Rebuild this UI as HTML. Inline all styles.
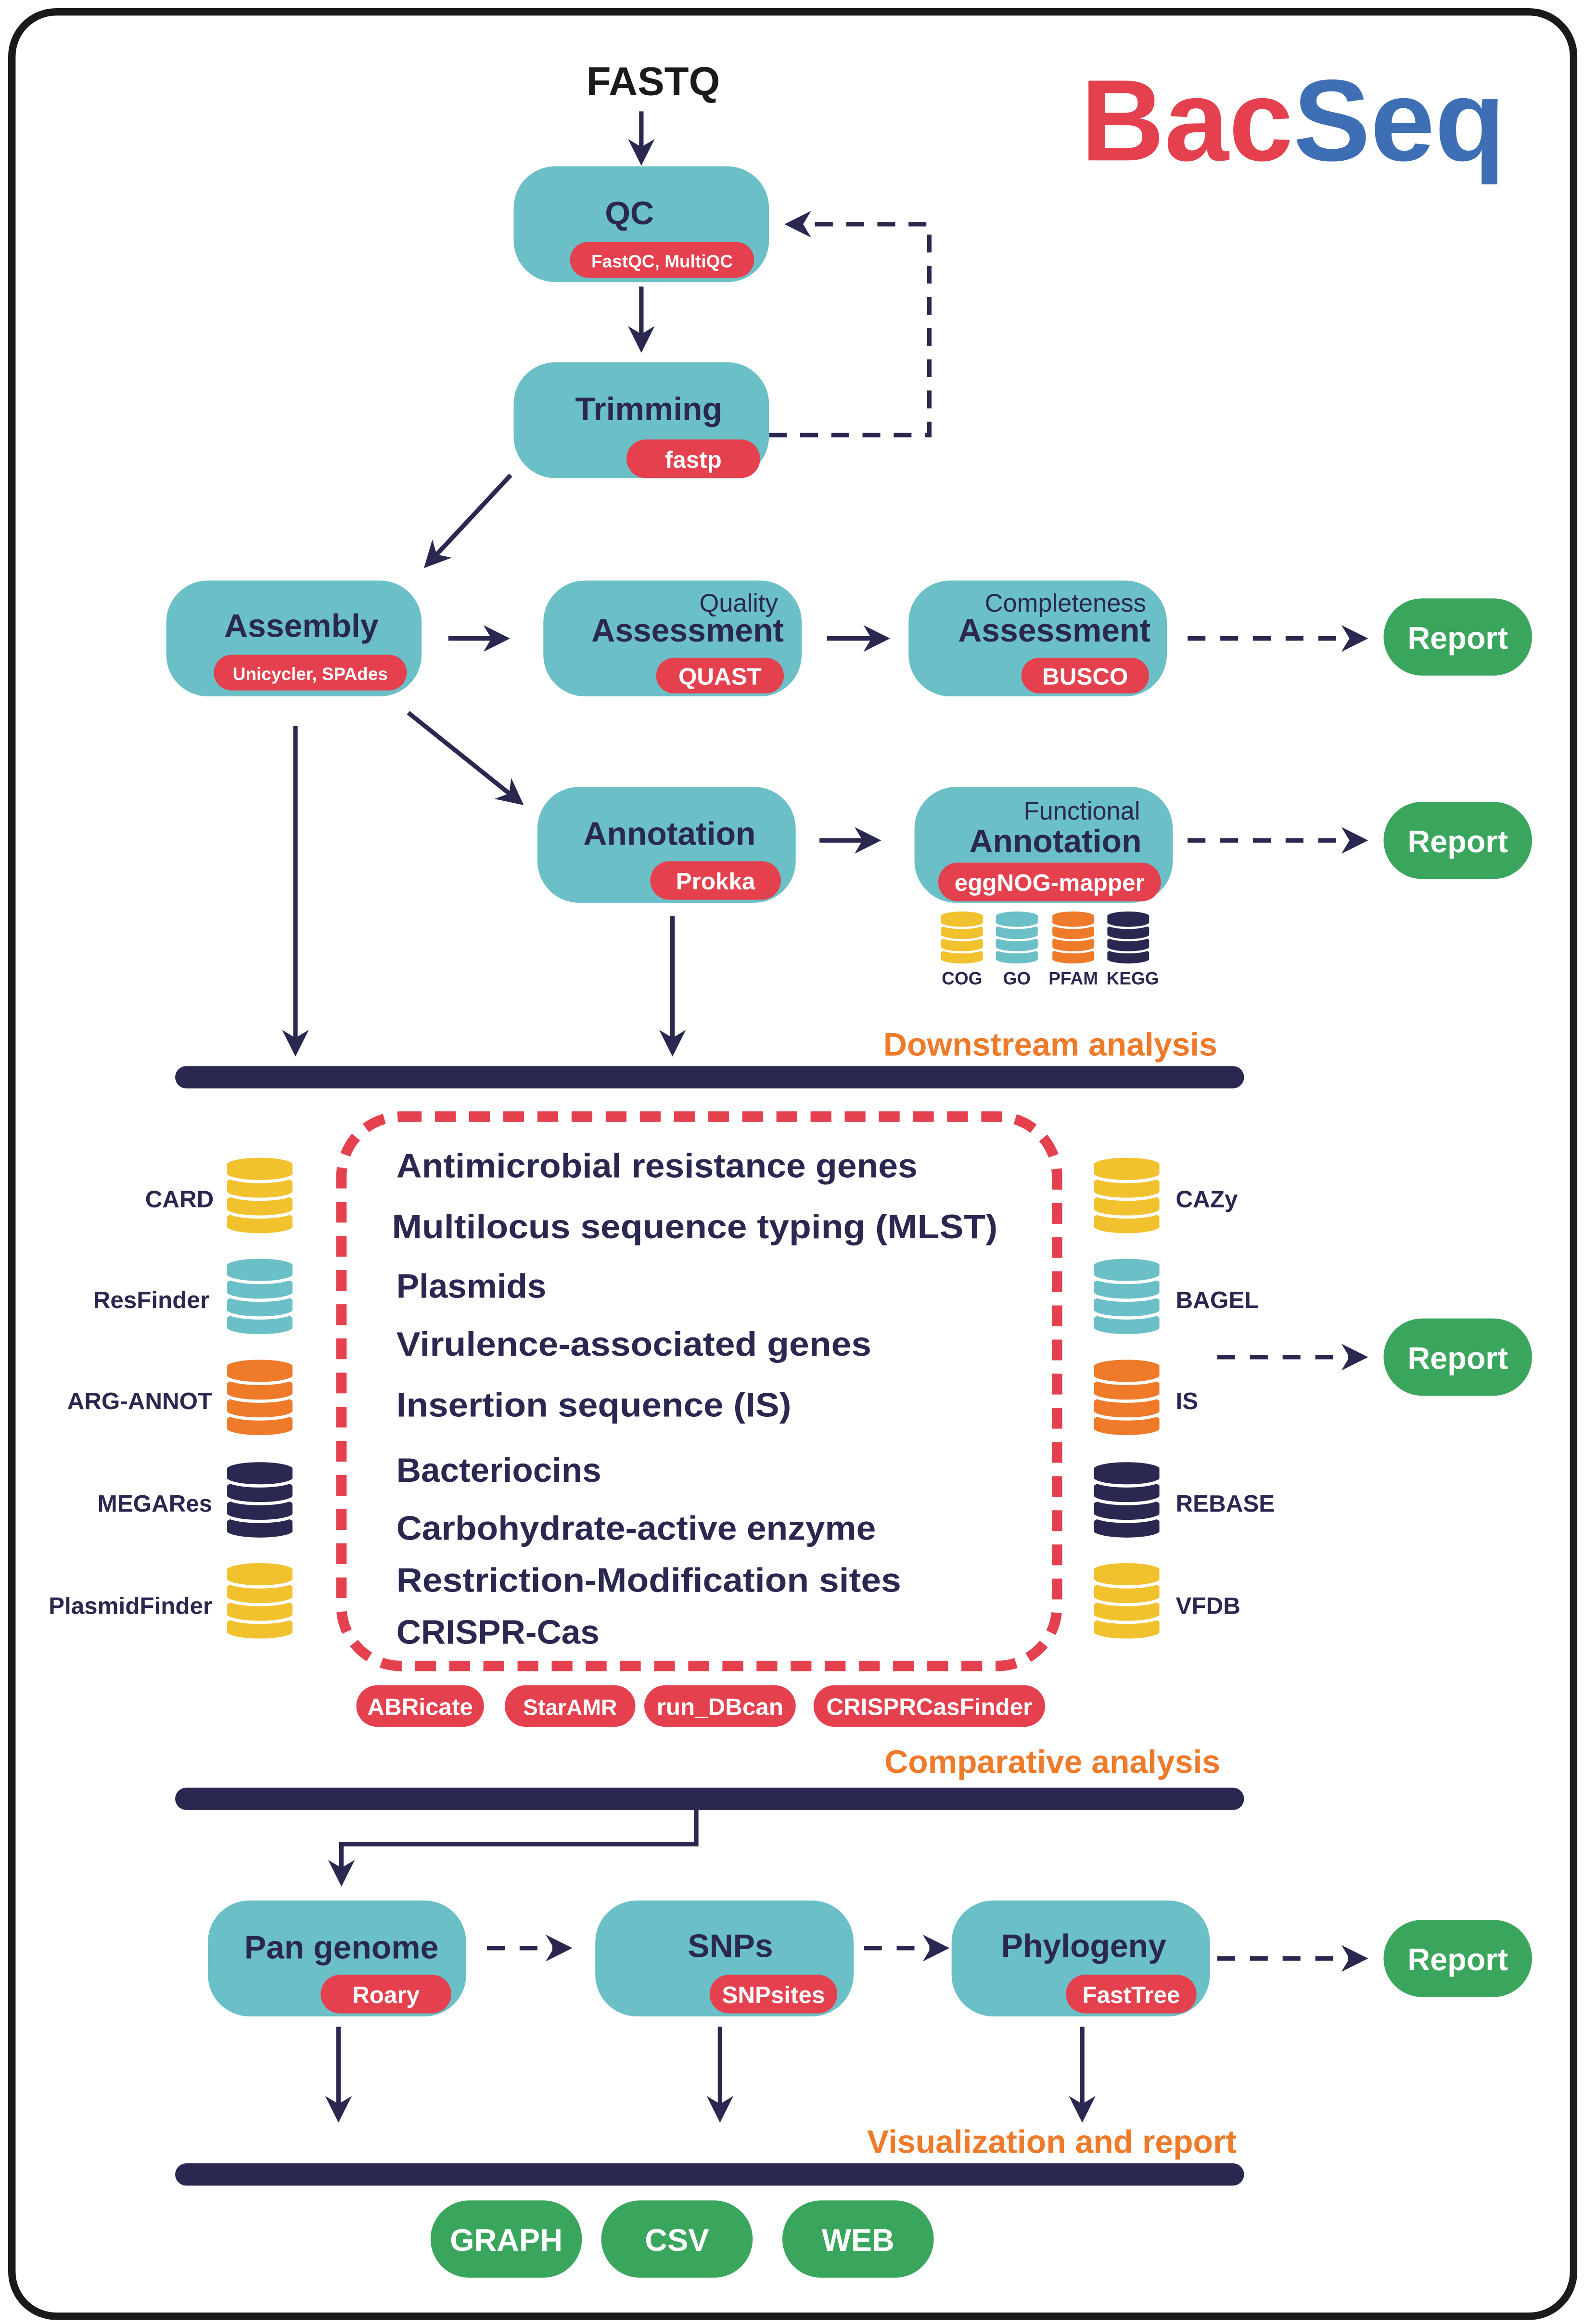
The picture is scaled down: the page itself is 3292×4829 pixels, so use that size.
<!DOCTYPE html>
<html><head><meta charset="utf-8"><style>
html,body{margin:0;padding:0;background:#fff}
svg{display:block}
text{font-family:"Liberation Sans",sans-serif}
</style></head><body>
<svg width="3292" height="4829" viewBox="0 0 1067 1565.2" xmlns="http://www.w3.org/2000/svg">
<defs>
<marker id="ah" viewBox="0 0 10 10" refX="8" refY="5" markerWidth="6" markerHeight="6" orient="auto" markerUnits="strokeWidth"><path d="M0,0 L10,5 L0,10 L3,5 z" fill="#2a2850"/></marker>
<symbol id="db" viewBox="-2 -2 54 68" preserveAspectRatio="none">
<path d="M0,48 v8 a25,6 0 0 0 50,0 v-8 a25,6 0 0 0 -50,0 z" fill="currentColor" stroke="#fff" stroke-width="2.5"/>
<path d="M0,34 v8 a25,6 0 0 0 50,0 v-8 a25,6 0 0 0 -50,0 z" fill="currentColor" stroke="#fff" stroke-width="2.5"/>
<path d="M0,20 v8 a25,6 0 0 0 50,0 v-8 a25,6 0 0 0 -50,0 z" fill="currentColor" stroke="#fff" stroke-width="2.5"/>
<path d="M0,6 v8 a25,6 0 0 0 50,0 v-8 a25,6 0 0 0 -50,0 z" fill="currentColor" stroke="#fff" stroke-width="2.5"/>
</symbol>
</defs>
<rect x="0" y="0" width="1067" height="1566" fill="#fff"/>
<rect x="8" y="8" width="1052" height="1552" rx="30" fill="none" stroke="#1a1a1a" stroke-width="5"/>

<text x="728" y="108" font-size="78" font-weight="bold" fill="#e5404e">Bac<tspan fill="#3e6fb5">Seq</tspan></text>

<g fill="none" stroke="#2a2850" stroke-width="3">
<line x1="432" y1="75" x2="432" y2="108" marker-end="url(#ah)"/>
<line x1="432" y1="193" x2="432" y2="234" marker-end="url(#ah)"/>
<path d="M518,293 H626 V151 H532" stroke-dasharray="12 9" marker-end="url(#ah)"/>
<line x1="344" y1="320" x2="288" y2="380" marker-end="url(#ah)"/>
<line x1="302" y1="430" x2="340" y2="430" marker-end="url(#ah)"/>
<line x1="557" y1="430" x2="596" y2="430" marker-end="url(#ah)"/>
<line x1="800" y1="430" x2="918" y2="430" stroke-dasharray="12 10" marker-end="url(#ah)"/>
<line x1="275" y1="480" x2="350" y2="540" marker-end="url(#ah)"/>
<line x1="552" y1="566" x2="590" y2="566" marker-end="url(#ah)"/>
<line x1="800" y1="566" x2="918" y2="566" stroke-dasharray="12 10" marker-end="url(#ah)"/>
<line x1="199" y1="489" x2="199" y2="708" marker-end="url(#ah)"/>
<line x1="453" y1="617" x2="453" y2="708" marker-end="url(#ah)"/>
<line x1="820" y1="914" x2="918" y2="914" stroke-dasharray="12 10" marker-end="url(#ah)"/>
<path d="M469,1219 V1242 H230 V1267" marker-end="url(#ah)"/>
<line x1="328" y1="1312" x2="382" y2="1312" stroke-dasharray="12 10" marker-end="url(#ah)"/>
<line x1="582" y1="1312" x2="636" y2="1312" stroke-dasharray="12 10" marker-end="url(#ah)"/>
<line x1="820" y1="1319" x2="918" y2="1319" stroke-dasharray="12 10" marker-end="url(#ah)"/>
<line x1="228" y1="1365" x2="228" y2="1426" marker-end="url(#ah)"/>
<line x1="485" y1="1365" x2="485" y2="1426" marker-end="url(#ah)"/>
<line x1="729" y1="1365" x2="729" y2="1426" marker-end="url(#ah)"/>
</g>

<text x="440" y="64" font-size="27" font-weight="bold" fill="#1a1a1a" text-anchor="middle">FASTQ</text>

<g fill="#6bbfc6">
<rect x="346" y="112" width="172" height="78" rx="28"/>
<rect x="346" y="244" width="172" height="78" rx="28"/>
<rect x="112" y="391" width="172" height="78" rx="28"/>
<rect x="366" y="391" width="174" height="78" rx="28"/>
<rect x="612" y="391" width="174" height="78" rx="28"/>
<rect x="362" y="530" width="174" height="78" rx="28"/>
<rect x="616" y="530" width="174" height="78" rx="28"/>
<rect x="140" y="1280" width="174" height="78" rx="28"/>
<rect x="401" y="1280" width="174" height="78" rx="28"/>
<rect x="641" y="1280" width="174" height="78" rx="28"/>
</g>
<g fill="#e5404e">
<rect x="384" y="163" width="124" height="24" rx="12"/>
<rect x="422" y="296" width="90" height="26" rx="13"/>
<rect x="144" y="441" width="130" height="24" rx="12"/>
<rect x="442" y="443" width="86" height="24" rx="12"/>
<rect x="688" y="443" width="86" height="24" rx="12"/>
<rect x="438" y="580" width="88" height="26" rx="13"/>
<rect x="632" y="581" width="150" height="26" rx="13"/>
<rect x="216" y="1330" width="88" height="26" rx="13"/>
<rect x="478" y="1330" width="86" height="26" rx="13"/>
<rect x="718" y="1330" width="88" height="26" rx="13"/>
<rect x="240" y="1135" width="86" height="28" rx="14"/>
<rect x="340" y="1135" width="88" height="28" rx="14"/>
<rect x="434" y="1135" width="102" height="28" rx="14"/>
<rect x="548" y="1135" width="156" height="28" rx="14"/>
</g>
<g fill="#2a2850" font-weight="bold" font-size="22" text-anchor="middle">
<text x="424" y="151">QC</text>
<text x="437" y="283">Trimming</text>
<text x="203" y="429">Assembly</text>
<text x="528" y="432" text-anchor="end">Assessment</text>
<text x="775" y="432" text-anchor="end">Assessment</text>
<text x="451" y="569">Annotation</text>
<text x="769" y="574" text-anchor="end">Annotation</text>
<text x="230" y="1319">Pan genome</text>
<text x="492" y="1318">SNPs</text>
<text x="730" y="1318">Phylogeny</text>
</g>
<g fill="#2a2850" font-size="17" text-anchor="end">
<text x="524" y="412">Quality</text>
<text x="772" y="412">Completeness</text>
<text x="768" y="552">Functional</text>
</g>
<g fill="#fff" font-weight="bold" text-anchor="middle">
<text x="446" y="180" font-size="12">FastQC, MultiQC</text>
<text x="467" y="315" font-size="16">fastp</text>
<text x="209" y="458" font-size="12">Unicycler, SPAdes</text>
<text x="485" y="461" font-size="16">QUAST</text>
<text x="731" y="461" font-size="16">BUSCO</text>
<text x="482" y="599" font-size="16">Prokka</text>
<text x="707" y="600" font-size="16">eggNOG-mapper</text>
<text x="260" y="1349" font-size="16">Roary</text>
<text x="521" y="1349" font-size="16">SNPsites</text>
<text x="762" y="1349" font-size="16">FastTree</text>
<text x="283" y="1155" font-size="16">ABRicate</text>
<text x="384" y="1155" font-size="15">StarAMR</text>
<text x="485" y="1155" font-size="16">run_DBcan</text>
<text x="626" y="1155" font-size="16">CRISPRCasFinder</text>
</g>

<g fill="#3aa55c">
<rect x="932" y="403" width="100" height="52" rx="26"/>
<rect x="932" y="540" width="100" height="52" rx="26"/>
<rect x="932" y="888" width="100" height="52" rx="26"/>
<rect x="932" y="1293" width="100" height="52" rx="26"/>
<rect x="290" y="1482" width="102" height="52" rx="26"/>
<rect x="405" y="1482" width="102" height="52" rx="26"/>
<rect x="527" y="1482" width="102" height="52" rx="26"/>
</g>
<g fill="#fff" font-size="21" text-anchor="middle" font-weight="bold">
<text x="982" y="437">Report</text>
<text x="982" y="574">Report</text>
<text x="982" y="922">Report</text>
<text x="982" y="1327">Report</text>
<text x="341" y="1516">GRAPH</text>
<text x="456" y="1516">CSV</text>
<text x="578" y="1516">WEB</text>
</g>

<use href="#db" x="632" y="612" width="32" height="40" color="#f2c12e"/>
<use href="#db" x="669" y="612" width="32" height="40" color="#6bbfc6"/>
<use href="#db" x="707" y="612" width="32" height="40" color="#ee7a2a"/>
<use href="#db" x="744" y="612" width="32" height="40" color="#2a2850"/>
<g fill="#2a2850" font-size="12" font-weight="bold" text-anchor="middle">
<text x="648" y="663">COG</text><text x="685" y="663">GO</text><text x="723" y="663">PFAM</text><text x="763" y="663">KEGG</text>
</g>

<g fill="#2a2850">
<rect x="118" y="718" width="720" height="15" rx="7.5"/>
<rect x="118" y="1204" width="720" height="15" rx="7.5"/>
<rect x="118" y="1457" width="720" height="15" rx="7.5"/>
</g>
<g fill="#ee7a2a" font-size="22" font-weight="bold" text-anchor="end">
<text x="820" y="711">Downstream analysis</text>
<text x="822" y="1194">Comparative analysis</text>
<text x="833" y="1450">Visualization and report</text>
</g>

<rect x="230" y="752" width="482" height="370" rx="40" fill="none" stroke="#e5404e" stroke-width="7" stroke-dasharray="14 9"/>
<g fill="#2a2850" font-size="23" font-weight="bold">
<text x="267" y="793" textLength="351" lengthAdjust="spacingAndGlyphs">Antimicrobial resistance genes</text>
<text x="264" y="834" textLength="408" lengthAdjust="spacingAndGlyphs">Multilocus sequence typing (MLST)</text>
<text x="267" y="874">Plasmids</text>
<text x="267" y="913" textLength="320" lengthAdjust="spacingAndGlyphs">Virulence-associated genes</text>
<text x="267" y="954" textLength="266" lengthAdjust="spacingAndGlyphs">Insertion sequence (IS)</text>
<text x="267" y="998">Bacteriocins</text>
<text x="267" y="1037" textLength="323" lengthAdjust="spacingAndGlyphs">Carbohydrate-active enzyme</text>
<text x="267" y="1072" textLength="340" lengthAdjust="spacingAndGlyphs">Restriction-Modification sites</text>
<text x="267" y="1107">CRISPR-Cas</text>
</g>

<use href="#db" x="150" y="777" width="50" height="58" color="#f2c12e"/>
<use href="#db" x="150" y="845" width="50" height="58" color="#6bbfc6"/>
<use href="#db" x="150" y="913" width="50" height="58" color="#ee7a2a"/>
<use href="#db" x="150" y="982" width="50" height="58" color="#2a2850"/>
<use href="#db" x="150" y="1050" width="50" height="58" color="#f2c12e"/>
<use href="#db" x="734" y="777" width="50" height="58" color="#f2c12e"/>
<use href="#db" x="734" y="845" width="50" height="58" color="#6bbfc6"/>
<use href="#db" x="734" y="913" width="50" height="58" color="#ee7a2a"/>
<use href="#db" x="734" y="982" width="50" height="58" color="#2a2850"/>
<use href="#db" x="734" y="1050" width="50" height="58" color="#f2c12e"/>
<g fill="#2a2850" font-size="16" font-weight="bold" text-anchor="end">
<text x="144" y="813">CARD</text>
<text x="141" y="881">ResFinder</text>
<text x="143" y="949">ARG-ANNOT</text>
<text x="143" y="1018">MEGARes</text>
<text x="143" y="1087">PlasmidFinder</text>
</g>
<g fill="#2a2850" font-size="16" font-weight="bold">
<text x="792" y="813">CAZy</text>
<text x="792" y="881">BAGEL</text>
<text x="792" y="949">IS</text>
<text x="792" y="1018">REBASE</text>
<text x="792" y="1087">VFDB</text>
</g>
</svg>
</body></html>
